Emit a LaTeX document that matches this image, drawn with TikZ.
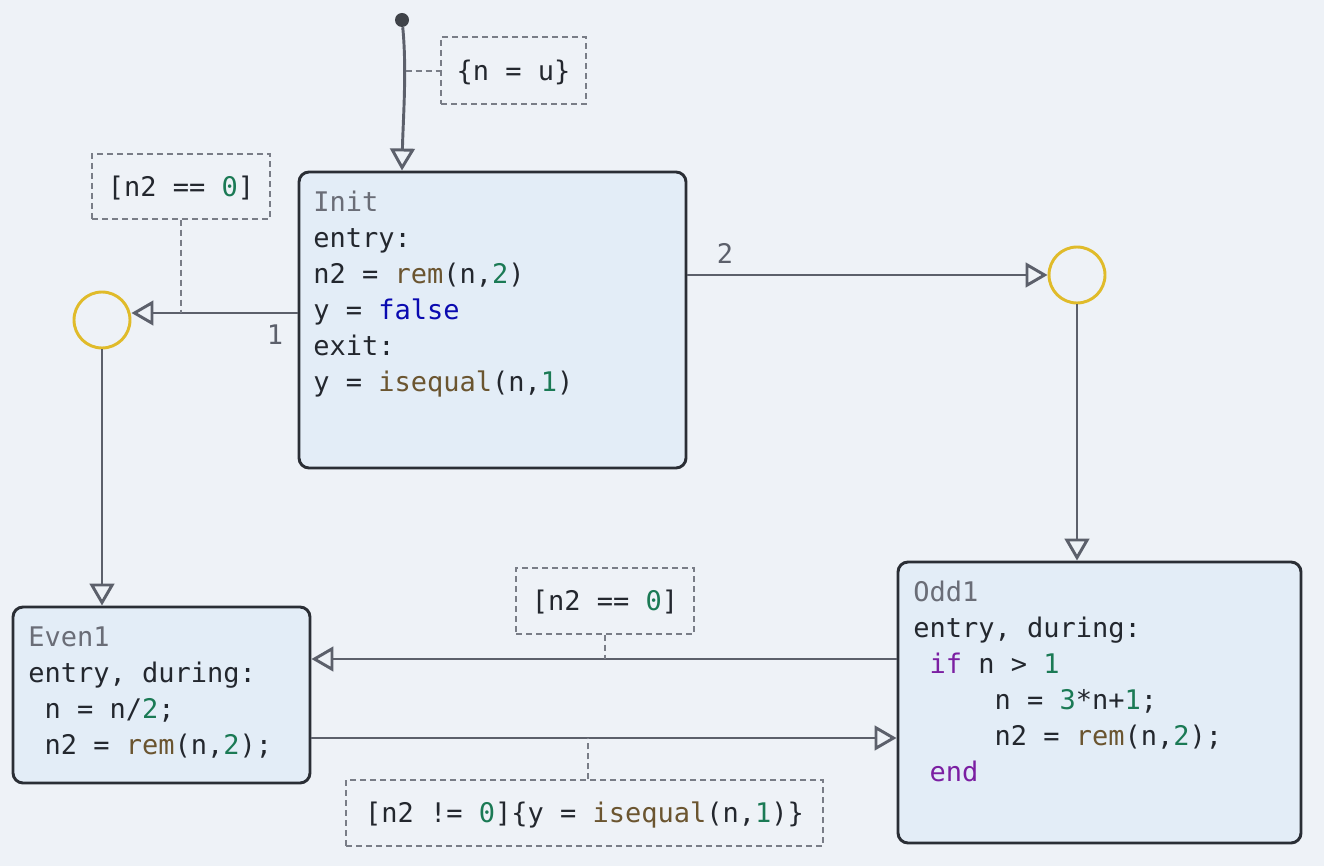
\documentclass[tikz,border=0pt]{standalone}
\usepackage{fontspec}
\newfontfamily\codefont{DejaVu Sans Mono}
\usetikzlibrary{arrows.meta}
\definecolor{bgc}{HTML}{EEF2F7}
\definecolor{boxfill}{HTML}{E3EDF7}
\definecolor{boxline}{HTML}{2A2E35}
\definecolor{arrc}{HTML}{5C606B}
\definecolor{junc}{HTML}{E0BB2A}
\definecolor{dashc}{HTML}{797D87}
\definecolor{titlec}{HTML}{6A6D77}
\definecolor{txtc}{HTML}{23272E}
\definecolor{fnc}{HTML}{6B5530}
\definecolor{numc}{HTML}{1B7A55}
\definecolor{boolc}{HTML}{0A0AB0}
\definecolor{kwc}{HTML}{7B1FA2}
\newcommand{\cfn}[1]{\textcolor{fnc}{#1}}
\newcommand{\cnum}[1]{\textcolor{numc}{#1}}
\newcommand{\cbool}[1]{\textcolor{boolc}{#1}}
\newcommand{\ckw}[1]{\textcolor{kwc}{#1}}
\newcommand{\ctitle}[1]{\textcolor{titlec}{#1}}
\begin{document}
\begin{tikzpicture}[x=0.75pt,y=-0.75pt,
  code/.style={font=\codefont\fontsize{20.25pt}{27pt}\selectfont, text=txtc},
  statebox/.style={draw=boxline, fill=boxfill, line width=2.2pt, rounded corners=7.5pt, inner sep=0pt},
  statetext/.style={code, align=left, anchor=north west, inner sep=0pt},
  junction/.style={circle, draw=junc, line width=2.2pt, minimum size=42pt, inner sep=0pt},
  tr/.style={draw=arrc, line width=2.2pt, -{Triangle[open, length=16.5pt, width=18.5pt, line width=2.2pt]}},
  lbl/.style={code, draw=dashc, dash pattern=on 4.5pt off 3pt, line width=1.1pt, inner sep=0pt, text height=14.8pt, text depth=0pt},
  dlink/.style={draw=dashc, dash pattern=on 4.5pt off 3pt, line width=1.1pt},
  numlbl/.style={code, text=arrc, inner sep=0pt}]
\fill[bgc] (0,0) rectangle (1324,866);
\useasboundingbox (0,0) rectangle (1324,866);

% states
\node[statebox, minimum width=290.25pt, minimum height=222pt] (Init) at (492.5,320) {};
\node[statebox, minimum width=302.25pt, minimum height=210.75pt] (Odd1) at (1099.5,702.5) {};
\node[statebox, minimum width=222.75pt, minimum height=132pt] (Even1) at (161.5,695) {};

\node[statetext] (InitT) at (313,185.8) {\strut\ctitle{Init}\\
entry:\\
n2 = \cfn{rem}(n,\cnum{2})\\
y = \cbool{false}\\
exit:\\
y = \cfn{isequal}(n,\cnum{1})};

\node[statetext] (Odd1T) at (913,575.8) {\strut\ctitle{Odd1}\\
entry, during:\\
\hphantom{x}\ckw{if} n > \cnum{1}\\
\hphantom{xxxxx}n = \cnum{3}*n+\cnum{1};\\
\hphantom{xxxxx}n2 = \cfn{rem}(n,\cnum{2});\\
\hphantom{x}\ckw{end}};

\node[statetext] (Even1T) at (28,620.8) {\strut\ctitle{Even1}\\
entry, during:\\
\hphantom{x}n = n/\cnum{2};\\
\hphantom{x}n2 = \cfn{rem}(n,\cnum{2});};

% junctions
\node[junction] (J1) at (102,320) {};
\node[junction] (J2) at (1077,275) {};

% initial transition
\node[circle, fill=boxline!90, minimum size=10.5pt, inner sep=0pt] (start) at (402,20) {};
\draw[tr] (start) .. controls (407,70) and (403,120) .. (Init.north -| start);
\coordinate (c0) at (405.5,71);
\node[lbl, minimum width=108.75pt, minimum height=50.25pt] (L0) at (513.5,70.5) {\{n = u\}};
\draw[dlink] (c0) -- (L0.west |- c0);

% Init -> J1
\draw[tr] (Init.west |- 0,313) -- (J1.east |- 0,313);
\node[numlbl] (n1) at (275,335) {1};
\node[lbl, minimum width=133.5pt, minimum height=48.75pt] (L1) at (181,186.5) {[n2 == \cnum{0}]};
\draw[dlink] (L1.south) -- (L1.south |- 0,313);

% Init -> J2
\draw[tr] (Init.east |- J2) -- (J2.west);
\node[numlbl] (n2) at (725,253) {2};

% J2 -> Odd1
\draw[tr] (J2.south) -- (Odd1.north -| J2);

% J1 -> Even1
\draw[tr] (J1.south) -- (Even1.north -| J1);

% Odd1 -> Even1
\draw[tr] (Odd1.west |- 0,659) -- (Even1.east |- 0,659);
\node[lbl, minimum width=133.5pt, minimum height=49.5pt] (L2) at (605,601) {[n2 == \cnum{0}]};
\draw[dlink] (L2.south) -- (L2.south |- 0,659);

% Even1 -> Odd1
\draw[tr] (Even1.east |- 0,738) -- (Odd1.west |- 0,738);
\node[lbl, minimum width=357.75pt, minimum height=49.5pt] (L3) at (584.5,813) {[n2 != \cnum{0}]\{y = \cfn{isequal}(n,\cnum{1})\}};
\draw[dlink] (L3.north -| 588,0) -- (588,738);
\end{tikzpicture}
\end{document}
